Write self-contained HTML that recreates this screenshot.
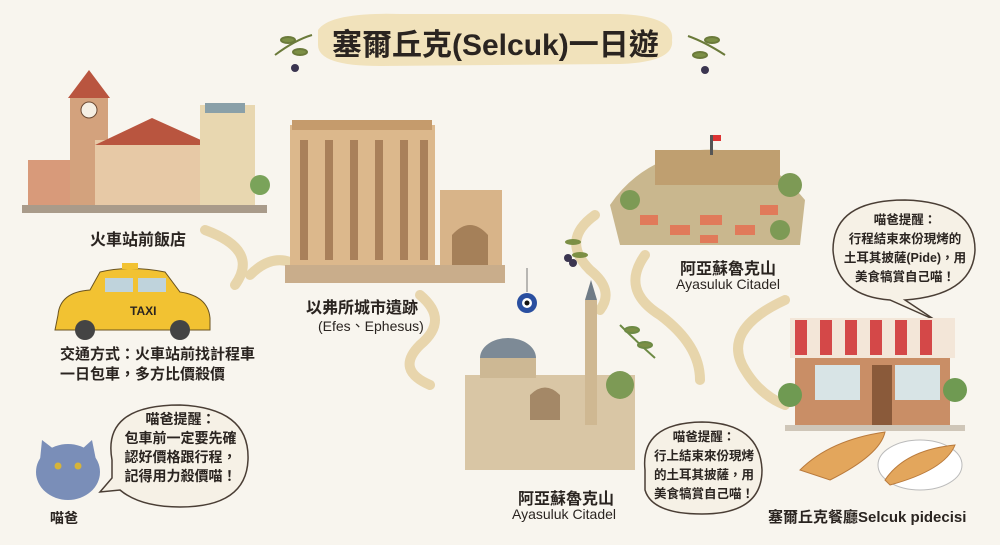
<!DOCTYPE html>
<html><head><meta charset="utf-8"><style>
html,body{margin:0;padding:0;}
body{width:1000px;height:545px;background:#f8f5ee;position:relative;overflow:hidden;font-family:"Liberation Sans","Noto Sans CJK TC",sans-serif;color:#2a2420;}
.t{position:absolute;font-weight:bold;white-space:nowrap;}
svg{position:absolute;left:0;top:0;}
</style></head><body>
<svg width="1000" height="545" viewBox="0 0 1000 545">
<g fill="none" stroke="#e6d2a4" stroke-width="10" stroke-linecap="round" opacity="0.9">
<path d="M205 230 Q260 250 235 285"/>
<path d="M250 275 Q270 255 290 262"/>
<path d="M420 295 Q450 320 420 345 Q395 370 430 385"/>
<path d="M595 215 Q560 240 590 270 Q615 290 600 310"/>
<path d="M645 255 Q620 290 660 315 Q700 345 700 380"/>
<path d="M785 300 Q720 330 745 370 Q760 395 785 405"/>
</g>
<path d="M318 30 Q330 12 400 14 L620 14 Q675 16 672 40 Q675 62 620 64 L380 66 Q318 66 318 45 Z" fill="#f1e2bb"/>
<g stroke="#6b7a3a" stroke-width="2" fill="#7c8f45"><path d="M275 55 Q295 40 312 35" fill="none"/><ellipse cx="288" cy="40" rx="7" ry="3"/><ellipse cx="300" cy="52" rx="7" ry="3"/><circle cx="295" cy="68" r="4" fill="#3b3550" stroke="none"/>
<path d="M725 55 Q705 42 688 36" fill="none"/><ellipse cx="712" cy="40" rx="7" ry="3"/><ellipse cx="700" cy="55" rx="7" ry="3"/><circle cx="705" cy="70" r="4" fill="#3b3550" stroke="none"/></g>
<rect x="28" y="160" width="70" height="50" fill="#d89a7a"/>
<rect x="70" y="95" width="38" height="115" fill="#d3a27d"/>
<polygon points="68,98 89,70 110,98" fill="#b9553f"/>
<circle cx="89" cy="110" r="8" fill="#f5efe4" stroke="#6b4a34"/>
<rect x="95" y="140" width="120" height="70" fill="#e7c9a6"/>
<polygon points="95,145 152,118 212,145" fill="#b9553f"/>
<rect x="200" y="105" width="55" height="105" fill="#e8d7b0"/>
<rect x="205" y="103" width="40" height="10" fill="#8aa0a8"/>
<rect x="22" y="205" width="245" height="8" fill="#a99b8a"/>
<circle cx="260" cy="185" r="10" fill="#7aa35a"/>
<rect x="290" y="125" width="145" height="150" fill="#dcb88c"/>
<rect x="292" y="120" width="140" height="10" fill="#c59b6c"/>
<g fill="#a9805a"><rect x="300" y="140" width="8" height="120"/><rect x="325" y="140" width="8" height="120"/><rect x="350" y="140" width="8" height="120"/><rect x="375" y="140" width="8" height="120"/><rect x="400" y="140" width="8" height="120"/><rect x="420" y="140" width="8" height="120"/></g>
<rect x="440" y="190" width="62" height="85" fill="#d8b489"/>
<path d="M452 275 L452 235 Q470 215 488 235 L488 275 Z" fill="#a58059"/>
<rect x="285" y="265" width="220" height="18" fill="#c9ad8b"/>
<path d="M610 205 Q640 160 700 150 Q760 145 805 200 L800 245 L620 245 Z" fill="#c9b78e"/>
<rect x="655" y="150" width="125" height="35" fill="#bf9f70"/>
<rect x="710" y="135" width="3" height="20" fill="#555"/><rect x="713" y="135" width="8" height="6" fill="#d33"/>
<g fill="#e17a5a"><rect x="640" y="215" width="18" height="10"/><rect x="670" y="225" width="20" height="10"/><rect x="700" y="215" width="22" height="10"/><rect x="735" y="225" width="20" height="10"/><rect x="760" y="205" width="18" height="10"/><rect x="700" y="235" width="18" height="8"/></g>
<g fill="#7d9a55"><circle cx="630" cy="200" r="10"/><circle cx="790" cy="185" r="12"/><circle cx="780" cy="230" r="10"/></g>
<g fill="#7c8f45"><ellipse cx="573" cy="242" rx="8" ry="3"/><ellipse cx="580" cy="255" rx="8" ry="3"/></g>
<circle cx="568" cy="258" r="4" fill="#3b3550"/><circle cx="573" cy="263" r="4" fill="#3b3550"/>
<line x1="527" y1="268" x2="527" y2="292" stroke="#777"/><circle cx="527" cy="303" r="10" fill="#2a4fa0"/><circle cx="527" cy="303" r="5" fill="#fff"/><circle cx="527" cy="303" r="2.5" fill="#111"/>
<rect x="465" y="375" width="170" height="95" fill="#d9c6a5"/>
<ellipse cx="508" cy="358" rx="28" ry="20" fill="#7d8a96"/>
<rect x="480" y="358" width="56" height="20" fill="#cdb894"/>
<rect x="585" y="300" width="12" height="125" fill="#cfb892"/>
<polygon points="585,300 591,280 597,300" fill="#6f7b86"/>
<path d="M530 420 L530 395 Q545 380 560 395 L560 420 Z" fill="#a48867"/>
<circle cx="620" cy="385" r="14" fill="#7d9a55"/>
<g stroke="#6d8a44" stroke-width="2" fill="#7c8f45"><path d="M620 325 Q635 340 655 358" fill="none"/><ellipse cx="632" cy="330" rx="7" ry="3"/><ellipse cx="645" cy="345" rx="7" ry="3"/></g>
<path d="M58 315 Q60 292 90 290 L100 272 Q130 265 165 272 L180 292 Q208 296 210 318 L210 330 L55 330 Z" fill="#f2c232" stroke="#6b5420"/>
<rect x="122" y="263" width="16" height="6" fill="#f2c232"/>
<rect x="105" y="278" width="28" height="14" fill="#bfd3dc"/><rect x="138" y="278" width="28" height="14" fill="#bfd3dc"/>
<circle cx="85" cy="330" r="10" fill="#444"/><circle cx="180" cy="330" r="10" fill="#444"/>
<text x="130" y="315" font-size="12" font-weight="bold" fill="#2a2420" font-family="Liberation Sans">TAXI</text>
<path d="M112 460 Q102 405 180 405 Q250 408 248 460 Q246 507 180 507 Q140 507 120 490 L100 492 L112 478 Z" fill="#f6f1e6" stroke="#4a3e35" stroke-width="1.5"/>
<path d="M645 470 Q640 423 702 422 Q760 423 762 470 Q762 514 702 514 Q652 514 645 490 Z" fill="#f6f1e6" stroke="#4a3e35" stroke-width="1.5"/>
<path d="M833 250 Q833 200 905 200 Q975 202 975 250 Q973 295 905 300 L935 320 L890 300 Q836 296 833 250 Z" fill="#f6f1e6" stroke="#4a3e35" stroke-width="1.5"/>
<ellipse cx="68" cy="472" rx="32" ry="28" fill="#7a8eb8"/>
<polygon points="40,460 42,440 55,450" fill="#7a8eb8"/><polygon points="96,460 92,440 81,450" fill="#7a8eb8"/>
<circle cx="58" cy="466" r="3.5" fill="#d6b43a"/><circle cx="78" cy="466" r="3.5" fill="#d6b43a"/>
<rect x="795" y="325" width="155" height="105" fill="#c98e66"/>
<rect x="790" y="318" width="165" height="40" fill="#f3e6d8"/>
<g fill="#d44848"><rect x="795" y="320" width="12" height="35"/><rect x="820" y="320" width="12" height="35"/><rect x="845" y="320" width="12" height="35"/><rect x="870" y="320" width="12" height="35"/><rect x="895" y="320" width="12" height="35"/><rect x="920" y="320" width="12" height="35"/></g>
<rect x="815" y="365" width="45" height="35" fill="#d8e4e6"/><rect x="895" y="365" width="45" height="35" fill="#d8e4e6"/>
<rect x="872" y="365" width="20" height="60" fill="#8a5a3a"/>
<circle cx="790" cy="395" r="12" fill="#6f9a52"/><circle cx="955" cy="390" r="12" fill="#6f9a52"/>
<rect x="785" y="425" width="180" height="6" fill="#cfc6b8"/>
<path d="M800 470 Q830 440 885 432 Q880 455 830 480 Z" fill="#e3a65c" stroke="#b97a3c"/>
<ellipse cx="920" cy="465" rx="42" ry="25" fill="#fff" stroke="#bbb"/>
<path d="M885 480 Q905 450 955 445 Q945 470 890 485 Z" fill="#e3a65c" stroke="#b97a3c"/>
</svg>
<div class="t" style="left:332px;top:20px;font-size:30px;">塞爾丘克(Selcuk)一日遊</div>
<div class="t" style="left:90px;top:226px;font-size:16px;">火車站前飯店</div>
<div class="t" style="left:60px;top:345px;font-size:15px;line-height:20px;">交通方式：火車站前找計程車<br>一日包車，多方比價殺價</div>
<div class="t" style="left:108px;top:410px;width:145px;text-align:center;font-size:14px;line-height:19px;">喵爸提醒：<br>包車前一定要先確<br>認好價格跟行程，<br>記得用力殺價喵！</div>
<div class="t" style="left:50px;top:508px;font-size:14px;">喵爸</div>
<div class="t" style="left:306px;top:294px;font-size:16px;">以弗所城市遺跡</div>
<div class="t" style="left:318px;top:316px;font-size:14px;font-weight:normal;">(Efes、Ephesus)</div>
<div class="t" style="left:680px;top:255px;font-size:16px;">阿亞蘇魯克山</div>
<div class="t" style="left:676px;top:276px;font-size:14px;font-weight:normal;">Ayasuluk Citadel</div>
<div class="t" style="left:518px;top:485px;font-size:16px;">阿亞蘇魯克山</div>
<div class="t" style="left:512px;top:506px;font-size:14px;font-weight:normal;">Ayasuluk Citadel</div>
<div class="t" style="left:838px;top:211px;width:134px;text-align:center;font-size:12.5px;line-height:19px;">喵爸提醒：<br>行程結束來份現烤的<br>土耳其披薩(Pide)，用<br>美食犒賞自己喵！</div>
<div class="t" style="left:650px;top:428px;width:108px;text-align:center;font-size:12.5px;line-height:19px;">喵爸提醒：<br>行上結束來份現烤<br>的土耳其披薩，用<br>美食犒賞自己喵！</div>
<div class="t" style="left:768px;top:506px;font-size:15px;">塞爾丘克餐廳Selcuk pidecisi</div>
</body></html>
